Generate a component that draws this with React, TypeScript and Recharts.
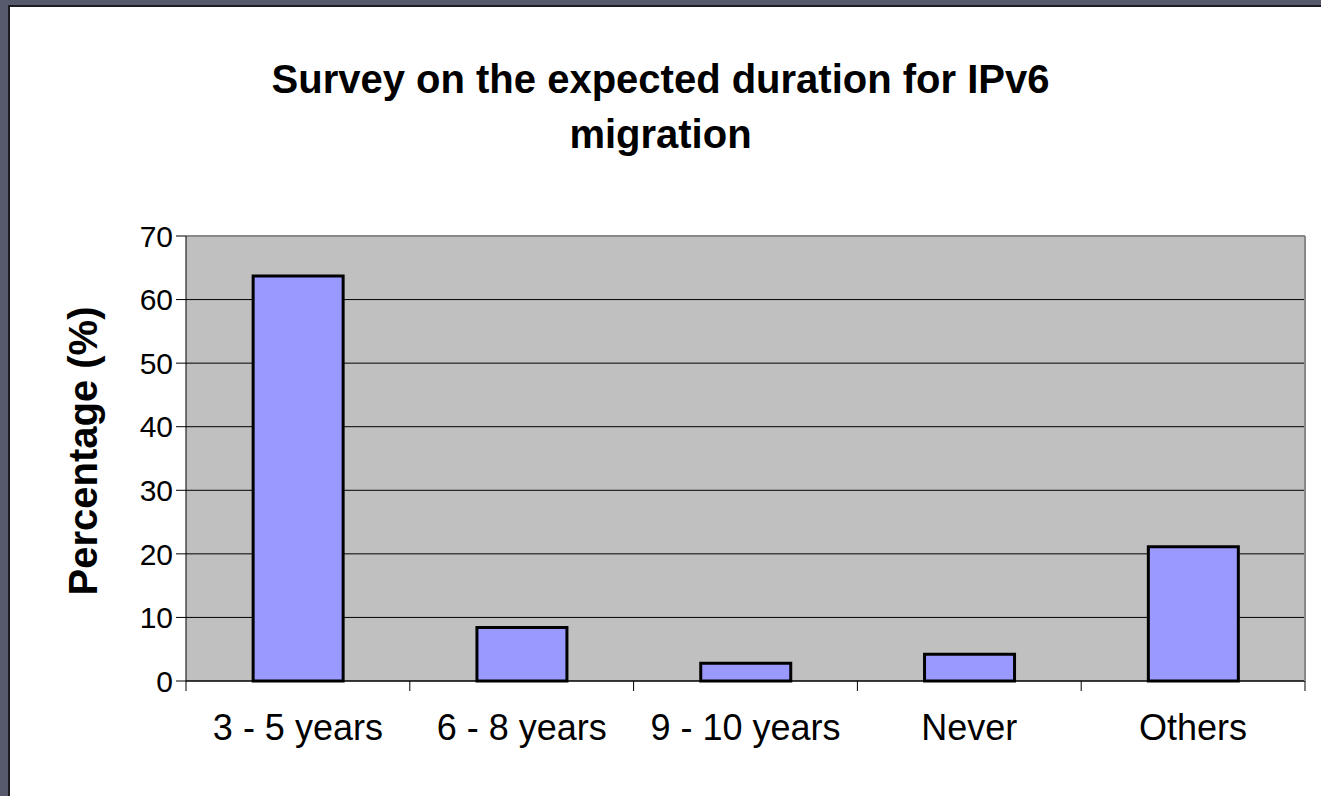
import {
  Bar,
  BarChart,
  CartesianGrid,
  XAxis,
  YAxis,
} from "recharts";

// survey answers
const categories = ["3 - 5 years", "6 - 8 years", "9 - 10 years", "Never", "Others"];
const percentages = [63.7, 8.4, 2.8, 4.2, 21.1];
const yTicks = [0, 10, 20, 30, 40, 50, 60, 70];
// boundary ticks between categories
const edgeTicks = [0, 1, 2, 3, 4, 5];

const data = categories.map((category, i) => ({ category, value: percentages[i] }));

const FONT = '"Liberation Sans", Arial, sans-serif';
const BORDER = "#888";

function YLabel() {
  return (
    <text
      x={97}
      y={451}
      transform="rotate(-90, 97, 451)"
      textAnchor="middle"
      fontFamily={FONT}
      fontSize={40}
      fontWeight="bold"
      fill="#000"
    >
      Percentage (%)
    </text>
  );
}

export default function App() {
  return (
    <div
      style={{
        position: "absolute",
        left: 0,
        top: 0,
        width: 1321,
        height: 796,
        overflow: "hidden",
        background: "#fff",
        fontFamily: FONT,
      }}
    >
      {/* slide frame on top and left */}
      <div style={{ position: "absolute", left: 0, top: 0, width: 1321, height: 5, background: "#565a6c" }} />
      <div style={{ position: "absolute", left: 0, top: 5, width: 1321, height: 2, background: "#1c1c22" }} />
      <div style={{ position: "absolute", left: 0, top: 0, width: 8, height: 796, background: "#565a6c" }} />
      <div style={{ position: "absolute", left: 8, top: 5, width: 2, height: 791, background: "#1c1c22" }} />

      <div
        style={{
          position: "absolute",
          left: 0,
          top: 52,
          width: 1321,
          textAlign: "center",
          fontSize: 40,
          fontWeight: "bold",
          lineHeight: "55px",
          color: "#000",
        }}
      >
        Survey on the expected duration for IPv6
        <br />
        migration
      </div>

      <div style={{ position: "absolute", left: 0, top: 0 }}>
        <BarChart
          width={1321}
          height={796}
          data={data}
          margin={{ top: 235, right: 15, bottom: 34, left: 0 }}
          barCategoryGap="30%"
          style={{ fontFamily: FONT }}
        >
          <CartesianGrid xAxisId="x2" vertical={false} stroke="#000" fill="#C0C0C0" fillOpacity={1} />
          <XAxis
            xAxisId="x2"
            dataKey="category"
            height={80}
            interval={0}
            tickLine={false}
            axisLine={false}
            tickSize={10}
            tickMargin={22}
            tick={{ fontSize: 36, fill: "#000" }}
          />
          <XAxis
            xAxisId="x1"
            type="number"
            dataKey={(d) => categories.indexOf(d.category)}
            domain={[0, 5]}
            ticks={edgeTicks}
            interval={0}
            allowDataOverflow
            height={1}
            axisLine={{ stroke: "#000" }}
            tickLine={{ stroke: "#000" }}
            tickSize={10}
            tickFormatter={() => ""}
          />
          <XAxis
            xAxisId="top"
            orientation="top"
            dataKey="category"
            height={1}
            tick={false}
            tickLine={false}
            axisLine={{ stroke: BORDER, strokeWidth: 2 }}
          />
          <YAxis
            width={186}
            domain={[0, 70]}
            ticks={yTicks}
            interval={0}
            axisLine={{ stroke: "#000" }}
            tickLine={{ stroke: "#000" }}
            tickSize={10}
            tickMargin={3}
            tick={{ fontSize: 30, fill: "#000" }}
          />
          <YAxis
            yAxisId="right"
            orientation="right"
            width={1}
            domain={[0, 70]}
            tick={false}
            tickLine={false}
            axisLine={{ stroke: BORDER, strokeWidth: 2 }}
          />
          <Bar
            xAxisId="x2"
            dataKey="value"
            fill="#9999FF"
            stroke="#000"
            strokeWidth={3}
            isAnimationActive={false}
          />
          <YLabel />
        </BarChart>
      </div>
    </div>
  );
}
